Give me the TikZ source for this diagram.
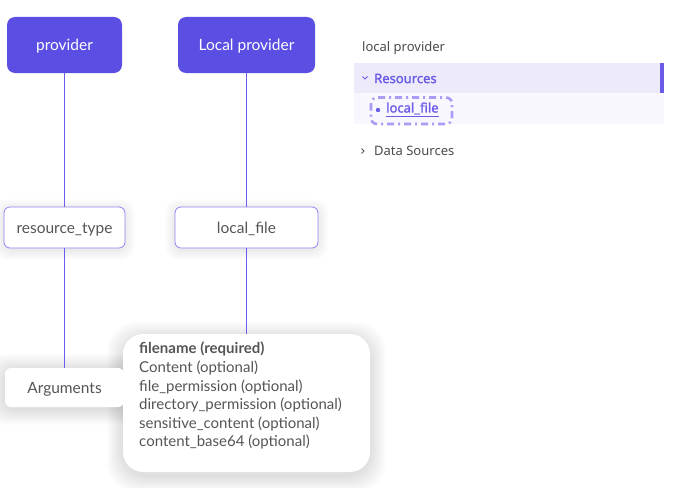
\documentclass[tikz,border=0pt]{standalone}
\usepackage{fontspec}
\setmainfont{Lato}
\newfontfamily\sidefont{Noto Sans}
\newfontfamily\sideboldfont{Noto Sans}[FakeBold=1.6]
\definecolor{prov}{HTML}{5B4FE3}
\definecolor{edgec}{HTML}{6A5CF0}
\definecolor{txt}{HTML}{555555}
\definecolor{band}{HTML}{EDEBFB}
\definecolor{rowc}{HTML}{F8F7FE}
\definecolor{dashc}{HTML}{A99BF6}
\definecolor{accent}{HTML}{6B5CE7}
\tikzset{
  mainfont/.style={font=\fontsize{15.5}{18}\selectfont, text height=11pt, text depth=0pt},
  provbox/.style={rectangle, rounded corners=8pt, fill=prov, text=white, minimum height=56pt, inner sep=0pt, mainfont},
  typebox/.style={rectangle, rounded corners=6pt, draw=edgec!75, line width=0.8pt, fill=white, text=txt, minimum height=41pt, inner sep=0pt, mainfont},
  argbox/.style={rectangle, rounded corners=6pt, fill=white, text=txt, inner sep=0pt, mainfont},
  bigbox/.style={rectangle, rounded corners=20pt, fill=white, inner sep=0pt},
  conn/.style={draw=edgec, line width=0.8pt},
  sidetxt/.style={font=\sidefont\fontsize{13}{15}\selectfont, text=txt!90!black, anchor=west, inner sep=0pt},
  sideacc/.style={font=\sideboldfont\fontsize{13}{15}\selectfont, text=accent, anchor=west, inner sep=0pt},
  shadowc/.style={fill=black, opacity=0.006}
}
\begin{document}
\begin{tikzpicture}[x=1pt,y=-1pt]
\useasboundingbox (0,0) rectangle (676,487);
\fill[white] (0,0) rectangle (676,487);
% soft shadows
\foreach \i in {1,...,16} {
  \fill[shadowc, rounded corners=28pt] (123-\i,338-\i) rectangle (370+\i,476+\i);
  \fill[shadowc, rounded corners=14pt] (5-\i,370-\i) rectangle (124+\i,409+\i);
}
\foreach \i in {1,...,10} {
  \fill[shadowc, rounded corners=12pt] (4-\i,209-\i) rectangle (125+\i,250+\i);
  \fill[shadowc, rounded corners=12pt] (175-\i,209-\i) rectangle (318+\i,250+\i);
}
% nodes
\node[provbox, minimum width=115pt] (p) at (64.5,45) {provider};
\node[provbox, minimum width=137pt] (lp) at (246.5,45) {Local provider};
\node[typebox, minimum width=121pt] (rt) at (64.5,227.5) {resource\_type};
\node[typebox, minimum width=143pt] (lf) at (246.5,227.5) {local\_file};
\node[argbox, minimum width=119pt, minimum height=39pt] (arg) at (64.5,387.5) {Arguments};
\node[bigbox, minimum width=247pt, minimum height=138pt] (det) at (246.5,403) {};
\node[anchor=north west, align=left, text=txt, inner sep=0pt,
      font=\fontsize{15}{18.6}\selectfont] (dettxt) at (139,342)
  {\textbf{filename (required)}\\
   Content (optional)\\
   file\_permission (optional)\\
   directory\_permission (optional)\\
   sensitive\_content (optional)\\
   content\_base64 (optional)};
% connectors
\draw[conn] (p.south) -- (rt.north);
\draw[conn] (lp.south) -- (lf.north);
\draw[conn] (rt.south) -- (arg.north);
\draw[conn] (lf.south) -- (det.north);
% right panel
\node[sidetxt] (lpt) at (362,48) {local provider};
\fill[band] (354,63) rectangle (664,93);
\fill[accent] (660,63) rectangle (663.5,93);
\fill[rowc] (354,93) rectangle (664,124);
\draw[accent, line width=0.8pt] (362.5,76.5) -- (365,79) -- (367.5,76.5);
\node[sideacc] (res) at (374,78.5) {Resources};
\draw[dashc, line width=2.6pt, rounded corners=6pt, dash pattern=on 7pt off 4pt on 2pt off 4pt] (371,97.5) rectangle (452,124);
\fill[accent] (378,110) circle (2.2pt);
\node[sideacc] (lfl) at (386,109.5) {\underline{local\_file}};
\draw[txt, line width=0.8pt] (361.5,148.5) -- (364,151) -- (361.5,153.5);
\node[sidetxt] (ds) at (374,151) {Data Sources};
\end{tikzpicture}
\end{document}
